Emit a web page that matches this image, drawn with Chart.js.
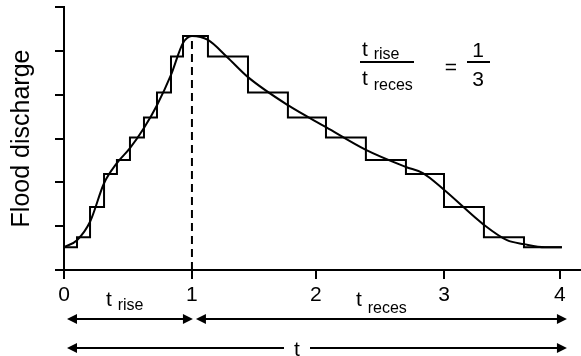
<!DOCTYPE html>
<html>
<head>
<meta charset="utf-8">
<script src="https://cdn.jsdelivr.net/npm/chart.js@4/dist/chart.umd.min.js"></script>
<style>
  html, body { margin: 0; padding: 0; background: #fff; }
  canvas { display: block; }
</style>
</head>
<body>
<canvas id="hydroChart" width="581" height="356"></canvas>
<script>
// x ticks (time units)
const tickValues = [0, 1.032, 2.032, 3.065, 4];
const tickLabels = ['0', '1', '2', '3', '4'];

// smooth hydrograph
const curveX = [0, 0.105, 0.21, 0.323, 0.427, 0.532, 0.645, 0.75, 0.863, 0.96, 1.032, 1.161, 1.315, 1.484, 1.806, 2.113, 2.435, 2.758, 2.895, 3.065, 3.387, 3.573, 3.71, 3.879, 4.016];
const curveY = [0.52, 0.68, 1.10, 1.98, 2.44, 2.78, 3.24, 3.76, 4.45, 5.18, 5.34, 5.25, 4.86, 4.40, 3.76, 3.26, 2.74, 2.35, 2.21, 1.83, 1.03, 0.68, 0.59, 0.52, 0.52];

// stepped (block) hydrograph: start of each block and its level
const stepX = [0, 0.105, 0.21, 0.323, 0.427, 0.532, 0.645, 0.75, 0.863, 0.96, 1.161, 1.484, 1.806, 2.113, 2.435, 2.758, 3.065, 3.387, 3.71, 4.016];
const stepY = [0.52, 0.75, 1.44, 2.19, 2.51, 3.02, 3.48, 4.05, 4.87, 5.34, 4.87, 4.05, 3.48, 3.02, 2.51, 2.19, 1.44, 0.75, 0.52, 0.52];

// time of peak
const peakX = 1.032;
const peakY = 5.34;

const FONT = "'Liberation Sans', Arial, sans-serif";

function arrowHead(ctx, x, y, dir) {
  const hl = 10, hw = 5;
  ctx.beginPath();
  ctx.moveTo(x, y);
  ctx.lineTo(x - dir * hl, y - hw);
  ctx.lineTo(x - dir * hl, y + hw);
  ctx.closePath();
  ctx.fill();
}

function arrowLine(ctx, x1, x2, y) {
  ctx.beginPath();
  ctx.moveTo(x1 + 9, y);
  ctx.lineTo(x2 - 9, y);
  ctx.stroke();
  arrowHead(ctx, x1, y, -1);
  arrowHead(ctx, x2, y, 1);
}

function subText(ctx, x, y, main, sub, drop) {
  ctx.font = '21px ' + FONT;
  ctx.fillText(main, x, y);
  const w = ctx.measureText(main + ' ').width;
  ctx.font = '16px ' + FONT;
  ctx.fillText(sub, x + w, y + drop);
}

const annotations = {
  id: 'annotations',
  afterDraw(chart) {
    const ctx = chart.ctx;
    const xs = chart.scales.x;
    const x0 = xs.getPixelForValue(tickValues[0]);
    const x1 = xs.getPixelForValue(tickValues[1]);
    const x4 = xs.getPixelForValue(tickValues[4]);
    ctx.save();
    ctx.fillStyle = '#000';
    ctx.strokeStyle = '#000';
    ctx.lineWidth = 2;
    ctx.textAlign = 'left';
    ctx.textBaseline = 'alphabetic';

    // labels between ticks
    subText(ctx, 106, 306, 't', 'rise', 4);
    subText(ctx, 356, 306, 't', 'reces', 7);

    // arrows
    arrowLine(ctx, x0 + 3, x1 + 1, 319);
    arrowLine(ctx, x1 + 4, x4 + 7, 319);
    ctx.beginPath();
    ctx.moveTo(x0 + 12, 348);
    ctx.lineTo(284, 348);
    ctx.moveTo(310, 348);
    ctx.lineTo(x4 - 2, 348);
    ctx.stroke();
    arrowHead(ctx, x0 + 3, 348, -1);
    arrowHead(ctx, x4 + 7, 348, 1);
    ctx.font = '21px ' + FONT;
    ctx.textAlign = 'center';
    ctx.fillText('t', 297, 356);

    // ratio t_rise / t_reces = 1/3
    ctx.textAlign = 'left';
    subText(ctx, 362, 56, 't', 'rise', 3);
    subText(ctx, 362, 85, 't', 'reces', 5);
    ctx.fillRect(360, 61, 54, 2);
    ctx.font = '21px ' + FONT;
    ctx.textAlign = 'center';
    ctx.fillText('=', 451, 74);
    ctx.fillText('1', 478, 57);
    ctx.fillText('3', 478, 86);
    ctx.fillRect(467, 61, 23, 2);
    ctx.restore();
  }
};

const axisGrid = {
  drawOnChartArea: false,
  drawTicks: true,
  tickLength: 9,
  color: '#000',
  lineWidth: 2
};

new Chart(document.getElementById('hydroChart').getContext('2d'), {
  type: 'line',
  data: {
    datasets: [
      {
        data: curveX.map((x, i) => ({ x: x, y: curveY[i] })),
        borderColor: '#000',
        borderWidth: 2,
        pointRadius: 0,
        cubicInterpolationMode: 'monotone',
        fill: false
      },
      {
        data: stepX.map((x, i) => ({ x: x, y: stepY[i] })),
        borderColor: '#000',
        borderWidth: 2,
        pointRadius: 0,
        stepped: 'before',
        fill: false
      },
      {
        data: [{ x: peakX, y: 0 }, { x: peakX, y: peakY }],
        borderColor: '#000',
        borderWidth: 2,
        borderDash: [8, 5],
        pointRadius: 0,
        fill: false
      }
    ]
  },
  options: {
    responsive: false,
    animation: false,
    layout: { padding: { top: 7, right: 0, left: 0, bottom: 0 } },
    plugins: {
      legend: { display: false },
      tooltip: { enabled: false }
    },
    scales: {
      x: {
        type: 'linear',
        min: 0,
        max: 4.17,
        afterBuildTicks(scale) {
          scale.ticks = tickValues.map(v => ({ value: v }));
        },
        afterFit(scale) { scale.height = 86; },
        ticks: {
          autoSkip: false,
          maxRotation: 0,
          padding: 4,
          color: '#000',
          font: { family: FONT, size: 21 },
          callback: (value, index) => tickLabels[index]
        },
        grid: axisGrid,
        border: { color: '#000', width: 2 }
      },
      y: {
        min: 0,
        max: 6,
        afterFit(scale) { scale.width = 64; },
        ticks: { stepSize: 1, display: false },
        grid: axisGrid,
        border: { color: '#000', width: 2 },
        title: {
          display: true,
          text: 'Flood discharge',
          color: '#000',
          font: { family: FONT, size: 25 },
          padding: { top: 7, bottom: 0 }
        }
      }
    }
  },
  plugins: [annotations]
});
</script>
</body>
</html>
